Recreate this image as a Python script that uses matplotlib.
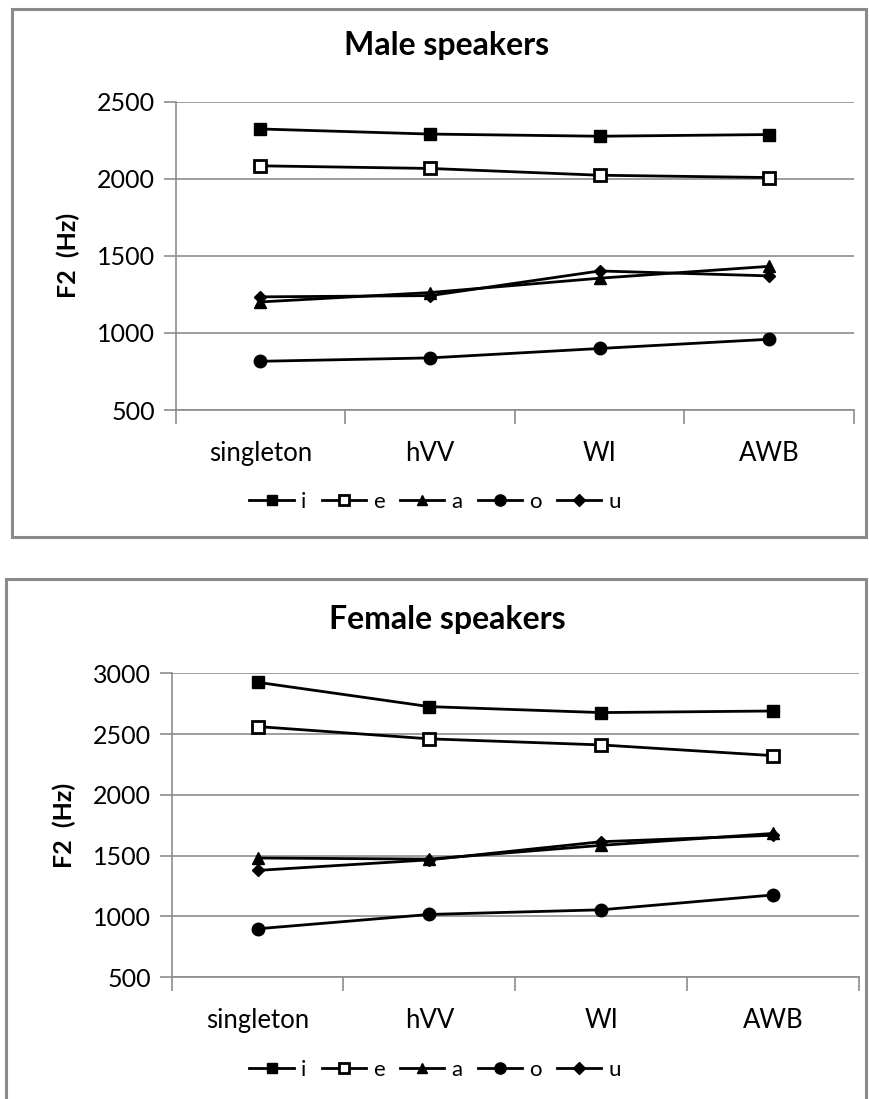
import matplotlib
matplotlib.use("Agg")
import matplotlib.pyplot as plt
from matplotlib.patches import Rectangle

plt.rcParams['font.family'] = ['Lato', 'DejaVu Sans']

categories = ["singleton", "hVV", "WI", "AWB"]
vowels = ["i", "e", "a", "o", "u"]

male_i = [2323, 2290, 2276, 2287]
male_e = [2084, 2067, 2023, 2008]
male_a = [1201, 1262, 1355, 1432]
male_o = [816, 838, 899, 959]
male_u = [1234, 1242, 1402, 1370]

female_i = [2926, 2726, 2677, 2690]
female_e = [2562, 2461, 2411, 2323]
female_a = [1481, 1472, 1585, 1683]
female_o = [899, 1017, 1055, 1177]
female_u = [1379, 1466, 1615, 1668]

male_ticks = [500, 1000, 1500, 2000, 2500]
female_ticks = [500, 1000, 1500, 2000, 2500, 3000]

markers = {"i": ("s", "black"), "e": ("s", "white"), "a": ("^", "black"),
           "o": ("o", "black"), "u": ("D", "black")}
msize = {"s": 8.5, "^": 8.5, "o": 9.0, "D": 6.5}

W, H = 869, 1099
fig = plt.figure(figsize=(W / 100, H / 100), dpi=100)
GRID = "#8c8c8c"


def box(x0, y0, x1, y1):
    fig.patches.append(Rectangle((x0 / W, 1 - y1 / H), (x1 - x0) / W, (y1 - y0) / H,
                                 transform=fig.transFigure, fill=False,
                                 edgecolor="#8a8a8a", linewidth=2.2, zorder=0))


def panel(left, right, top, bottom, title, title_y, series, ticks, legend_y):
    ax = fig.add_axes([left / W, 1 - bottom / H, (right - left) / W, (bottom - top) / H])
    x = list(range(len(categories)))
    handles = []
    for v, vals in zip(vowels, series):
        m, fc = markers[v]
        h, = ax.plot(x, vals, color="black", linewidth=2.0, marker=m,
                     markersize=msize[m], markerfacecolor=fc,
                     markeredgecolor="black", markeredgewidth=2.0 if fc == "white" else 1.0,
                     label=v, zorder=3, clip_on=False)
        handles.append(h)
    ax.set_xlim(-0.5, len(categories) - 0.5)
    ax.set_ylim(ticks[0], ticks[-1])
    ax.set_yticks(ticks)
    ax.set_yticklabels([str(t) for t in ticks], fontsize=18)
    ax.set_xticks(x)
    ax.set_xticklabels(categories, fontsize=18.5)
    ax.set_xticks([i - 0.5 for i in range(len(categories) + 1)], minor=True)
    ax.tick_params(axis="x", which="major", length=0, pad=22)
    ax.tick_params(axis="x", which="minor", length=10, width=1.2, color=GRID)
    ax.tick_params(axis="y", length=9, width=1.2, color=GRID, pad=6)
    ax.yaxis.grid(True, color=GRID, linewidth=1.2)
    ax.set_axisbelow(True)
    for s in ("top", "right"):
        ax.spines[s].set_visible(False)
    for s in ("left", "bottom"):
        ax.spines[s].set_color(GRID)
        ax.spines[s].set_linewidth(1.2)
    ax.set_ylabel("F2  (Hz)", fontsize=18, fontweight="bold", labelpad=12)
    fig.text(447 / W, 1 - title_y / H, title, ha="center", va="center",
             fontsize=23, fontweight="bold")
    fig.legend(handles=handles, loc="center", bbox_to_anchor=(435 / W, 1 - legend_y / H),
               ncol=5, frameon=False, fontsize=16, handlelength=2.0, markerscale=0.9,
               handletextpad=0.3, columnspacing=0.7, borderaxespad=0)
    return ax


box(12, 9, 866, 537)
box(6, 579, 866, 1110)

panel(175.7, 854, 101.7, 410, "Male speakers", 45,
      [male_i, male_e, male_a, male_o, male_u], male_ticks, 502)
panel(171.7, 858.7, 673.3, 977.3, "Female speakers", 620,
      [female_i, female_e, female_a, female_o, female_u], female_ticks, 1070)

fig.savefig("out.png", dpi=100)
